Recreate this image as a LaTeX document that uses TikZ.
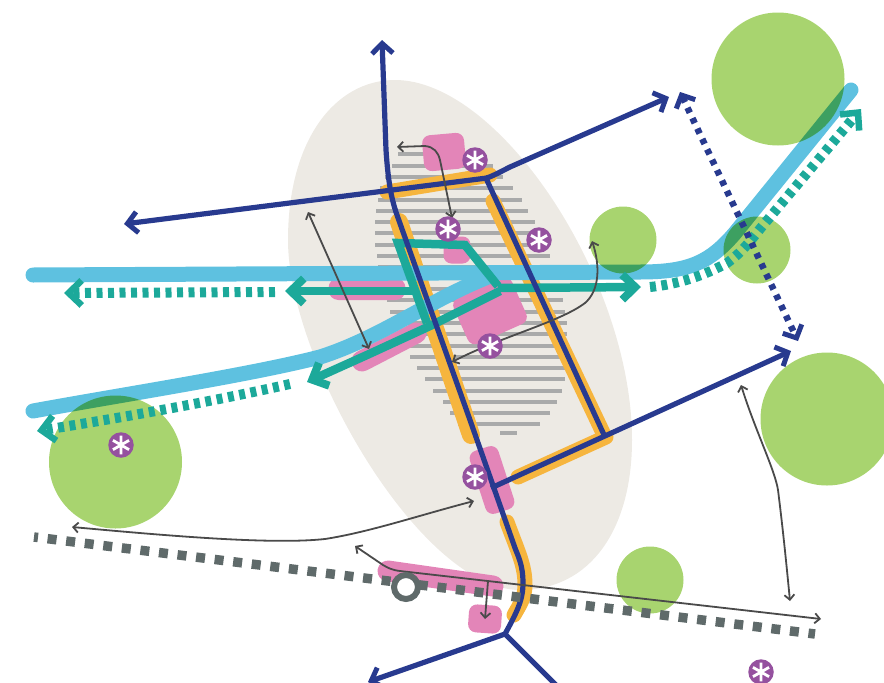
\documentclass[tikz,border=0pt]{standalone}
\usepackage{amsmath}
\usepackage{amssymb}
\usepackage{xcolor}
\usetikzlibrary{arrows.meta}

\definecolor{groundbeige}{HTML}{EDEAE4}
\definecolor{hatchgray}{HTML}{A9AAAA}
\definecolor{blockpink}{HTML}{E385B8}
\definecolor{roadorange}{HTML}{F6B53E}
\definecolor{riverblue}{HTML}{5EC1E0}
\definecolor{parkgreen}{HTML}{A8D46F}
\definecolor{pathteal}{HTML}{1CA99A}
\definecolor{roadnavy}{HTML}{283A8F}
\definecolor{railgray}{HTML}{5F6A6A}
\definecolor{linkgray}{HTML}{4A4A4A}
\definecolor{starpurple}{HTML}{95519F}

\begin{document}
\begin{tikzpicture}[x=1pt,y=-1pt,
    pinkblock/.style={fill=blockpink,rounded corners=8pt,inner sep=0pt},
    pinkbar/.style={draw=blockpink,line width=21pt,line cap=round},
    orangeline/.style={draw=roadorange,line width=15pt,line cap=round},
    riverline/.style={draw=riverblue,line width=15pt,line cap=round,line join=round},
    parkcircle/.style={circle,fill=parkgreen,inner sep=0pt,blend mode=multiply},
    tealline/.style={draw=pathteal,line width=8.5pt,line join=miter},
    tealarrow/.style={tealline,-{Straight Barb[length=13pt,width=25pt,line width=8pt]}},
    tealdots/.style={draw=pathteal,line width=10pt,dash pattern=on 6pt off 5.5pt,-{Straight Barb[length=13pt,width=25pt,line width=6.5pt]}},
    navyline/.style={draw=roadnavy,line width=5.2pt,line join=round},
    navyarrow/.style={navyline,-{Straight Barb[length=10pt,width=21pt,line width=5pt]}},
    navydots/.style={draw=roadnavy,line width=6.5pt,dash pattern=on 5.5pt off 6pt,{Straight Barb[length=10pt,width=21pt,line width=5pt]}-{Straight Barb[length=10pt,width=21pt,line width=5pt]}},
    linkarrow/.style={draw=linkgray,line width=1.8pt,{Straight Barb[length=5pt,width=10pt]}-{Straight Barb[length=5pt,width=10pt]}},
    starmark/.style={circle,fill=starpurple,minimum size=25.5pt,inner sep=0pt,path picture={
        \draw[white,line width=2.8pt]
            ([shift={(90:9.3)}]path picture bounding box.center) -- ([shift={(270:9.3)}]path picture bounding box.center)
            ([shift={(30:9.3)}]path picture bounding box.center) -- ([shift={(210:9.3)}]path picture bounding box.center)
            ([shift={(150:9.3)}]path picture bounding box.center) -- ([shift={(330:9.3)}]path picture bounding box.center);
    }}]
    \useasboundingbox (0,0) rectangle (884,683);
    \clip (0,0) rectangle (884,683);

    % Ground
    \fill[groundbeige] (395,80) .. controls (500,80) and (632,280) .. (632,440) .. controls (632,530) and (590,590) .. (520,590) .. controls (420,590) and (288,360) .. (288,240) .. controls (288,140) and (335,80) .. (395,80) -- cycle;

    % Hatching
    \draw[hatchgray,line width=3.2pt]
        (398,154) -- (450,154) (392,166) -- (493,166) (385,177) -- (503,177)
        (380,188) -- (513,188) (378,200) -- (522,200) (376,211) -- (528,211)
        (375,222) -- (535,222) (375,233) -- (542,233) (375,245) -- (547,245)
        (377,256) -- (550,256) (378,267) -- (555,267) (382,278) -- (558,278)
        (385,289) -- (560,289) (387,300) -- (563,300) (390,312) -- (565,312)
        (397,323) -- (567,323) (403,334) -- (567,334) (407,346) -- (567,346)
        (410,357) -- (567,357) (417,368) -- (565,368) (425,379) -- (565,379)
        (433,391) -- (562,391) (443,402) -- (557,402) (450,413) -- (550,413)
        (458,424) -- (540,424) (500,433) -- (517,433);

    % Pink blocks
    \node[pinkblock,minimum width=42pt,minimum height=36pt,rotate=5] (blocktop) at (444,152) {};
    \node[pinkblock,minimum width=27pt,minimum height=27pt] (blockstar) at (457,250) {};
    \node[pinkblock,minimum width=77pt,minimum height=22pt,rounded corners=10pt] (blockleft) at (367,289) {};
    \node[pinkblock,minimum width=64pt,minimum height=50pt,rotate=24] (blockmid) at (490,311) {};
    \draw[pinkbar] (362,361) -- (416,333);
    \node[pinkblock,minimum width=30pt,minimum height=66pt,rotate=18] (blocklow) at (492,480) {};
    \draw[pinkbar] (388,571) -- (493,586);
    \node[pinkblock,minimum width=33pt,minimum height=28pt,rotate=-4] (blockfoot) at (485,619) {};

    % Orange roads
    \draw[orangeline] (387,192) -- (490,175);
    \draw[orangeline,line width=18pt] (399,222) -- (471,435);
    \draw[orangeline] (493,201) -- (605,437);
    \draw[orangeline] (518,477) -- (606,437);
    \draw[orangeline] (507,522) .. controls (518,552) and (525,565) .. (525,585) .. controls (525,598) and (519,606) .. (514,615);

    % Rivers
    \draw[riverline] (33,275) -- (640,272) .. controls (690,272) and (710,262) .. (735,233) -- (851,90);
    \draw[riverline] (33,411) .. controls (120,395) and (250,375) .. (320,357) .. controls (380,338) and (430,300) .. (488,277);

    % Parks
    \node[parkcircle,minimum size=133pt] (parktop) at (778,79) {};
    \node[parkcircle,minimum size=67pt] (parkmid) at (623,240) {};
    \node[parkcircle,minimum size=67pt] (parkcross) at (757,250) {};
    \node[parkcircle,minimum size=133pt] (parkright) at (827,419) {};
    \node[parkcircle,minimum size=133pt] (parkleft) at (115.5,462) {};
    \node[parkcircle,minimum size=67pt] (parklow) at (650,580) {};

    % Teal paths
    \draw[tealarrow] (498,288) -- (641,287);
    \draw[tealarrow] (412,291) -- (285,291);
    \draw[tealline] (427,323) -- (398,243) -- (465,245) -- (498,286);
    \draw[tealarrow] (500,291) -- (430,326) -- (367,355) -- (307,382);
    \draw[tealdots] (650,287) .. controls (680,284) and (705,275) .. (727,263) .. controls (745,250) and (752,238) .. (765,223) -- (861,109);
    \draw[tealdots] (275,292) -- (64,293);
    \draw[tealdots] (290,384) .. controls (210,402) and (120,418) .. (37,431);

    % Navy roads
    \draw[navyarrow] (505,634) .. controls (517,612) and (523,600) .. (523,583) .. controls (523,565) and (518,556) .. (515,548) -- (470,420) -- (397,215) .. controls (391,198) and (388,180) .. (386,150) -- (382,40);
    \draw[navyarrow] (487,178) -- (124,224);
    \draw[navyarrow] (487,178) .. controls (497,174) and (500,172) .. (510,167) -- (669,97);
    \draw[navyline] (485,176) -- (605,437);
    \draw[navyarrow] (491,488) -- (791,351);
    \draw[navyarrow] (505,634) -- (368,682);
    \draw[navyline] (505,634) -- (556,685);
    \draw[navydots] (680,92) -- (798,341);

    % Rail
    \draw[railgray,line width=9.5pt,dash pattern=on 9pt off 9.7pt,dash phase=5pt] (34,537) -- (815,634);

    % Links
    \draw[linkarrow] (397,147) -- (425,146) .. controls (434,147) and (438,152) .. (440,160) -- (452,218);
    \draw[linkarrow] (308,212) -- (369,349);
    \draw[linkarrow] (592,241) .. controls (600,265) and (600,290) .. (585,303) .. controls (560,322) and (500,337) .. (452,362);
    \draw[linkarrow] (741,385) .. controls (755,430) and (775,470) .. (778,490) .. controls (783,530) and (786,560) .. (790,601);
    \draw[linkarrow] (72,527) .. controls (160,535) and (270,545) .. (325,539) .. controls (370,532) and (420,515) .. (474,501);
    \draw[linkarrow] (355,546) -- (383,565) .. controls (388,568) and (392,570) .. (400,571) -- (821,619);
    \draw[draw=linkgray,line width=1.8pt,-{Straight Barb[length=5pt,width=10pt]}] (488,581) -- (485,619);

    % Station
    \node[circle,draw=railgray,fill=white,line width=6pt,minimum size=24pt,inner sep=0pt] (station) at (406,587) {};

    % Stars
    \node[starmark] (startop) at (475,160) {};
    \node[starmark] (starinner) at (448,229) {};
    \node[starmark] (starright) at (539,240) {};
    \node[starmark] (starmid) at (490,346) {};
    \node[starmark] (starlow) at (475,477) {};
    \node[starmark] (starpark) at (121,445) {};
    \node[starmark] (starfar) at (761,672) {};
\end{tikzpicture}
\end{document}
